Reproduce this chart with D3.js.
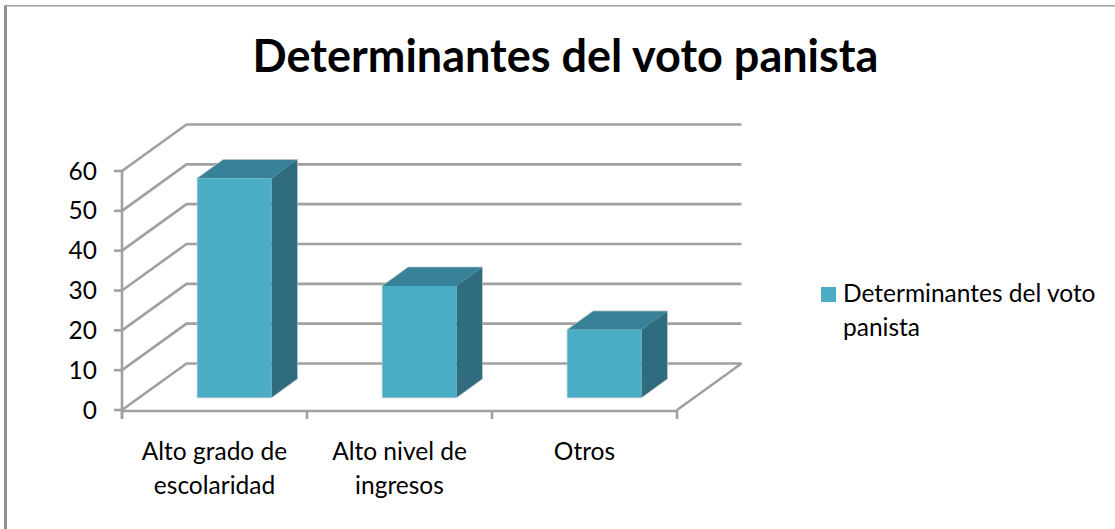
<!DOCTYPE html>
<html><head><meta charset="utf-8">
<script src="https://cdn.jsdelivr.net/npm/d3@7/dist/d3.min.js"></script>
<style>html,body{margin:0;background:#fff}svg{display:block}text{font-family:Lato,"Open Sans",sans-serif;fill:#000}</style>
</head><body><svg id="chart" width="1115" height="529"></svg>
<script>
const chartTitle = "Determinantes del voto panista";
const categories = [["Alto grado de","escolaridad"],["Alto nivel de","ingresos"],["Otros"]];
const values = [55, 28, 17];
const yTicks = [0,10,20,30,40,50,60];
const legendLines = ["Determinantes del voto","panista"];

const svg = d3.select("#chart");
const gridColor = "#a0a0a0";

// Frame around the chart area: only the top and left edges show
svg.append("rect").attr("x",4).attr("y",5).attr("width",3).attr("height",524).attr("fill","#8f8f8f");
svg.append("rect").attr("x",4).attr("y",5).attr("width",1111).attr("height",1.5).attr("fill","#a0a0a0");

svg.append("text").attr("x",565.5).attr("y",72).attr("text-anchor","middle")
  .attr("font-size",45).attr("font-weight",700).text(chartTitle);

// Oblique projection: depth 0 is the front of the floor, depth 1 the back wall
const y = d3.scaleLinear().domain([0,60]).range([410,171]);
const x = d3.scaleBand().domain(d3.range(categories.length)).range([122,677]);
const depthX = d3.scaleLinear().domain([0,1]).range([0,64.5]);
const depthY = d3.scaleLinear().domain([0,1]).range([0,-46.5]);
const project = (px, val, d) => [px + depthX(d), y(val) + depthY(d)];
const line = d3.line();
const grid = svg.append("g").attr("fill","none").attr("stroke",gridColor).attr("stroke-width",2.6);

// Gridlines run along the left wall, then across the back wall
yTicks.forEach(t => {
  grid.append("path").attr("d", line([project(122,t,0), project(122,t,1), project(677,t,1)]));
});
// Floor edge on the right
grid.append("path").attr("d", line([project(677,0,0), project(677,0,1)]));

// Value axis with outward ticks and labels
grid.append("path").attr("d", line([[122,y(60)],[122,y(0)+8]]));
yTicks.forEach(t => {
  grid.append("path").attr("d", line([[114,y(t)],[122,y(t)]]));
  svg.append("text").attr("x",97).attr("y",y(t)+8.5).attr("font-size",24.5).attr("text-anchor","end").text(t);
});

// Category axis
grid.append("path").attr("d", line([[122,y(0)+1],[677,y(0)+1]]));
[0,1,2,3].forEach(i => {
  const px = i<3 ? x(i) : x.range()[1];
  grid.append("path").attr("d", line([[px,y(0)],[px,y(0)+9]]));
});
categories.forEach((lines,i) => {
  lines.forEach((s,j) => svg.append("text").attr("x",x(i)+x.bandwidth()/2).attr("y",460+j*33.5)
    .attr("text-anchor","middle").attr("font-size",24.5).text(s));
});

// Bars: cuboids standing between depths 0.27 and 0.67 of the floor
const barW = 74, nearD = 0.27, farD = 0.67;
const barLeft = i => x(i) + (x.bandwidth()-barW)/2 + 2.5;
values.forEach((v,i) => {
  const L = barLeft(i), R = L+barW;
  const a = project(L,v,nearD), b = project(R,v,nearD), c = project(R,0,nearD), e = project(L,0,nearD);
  const bt = project(R,v,farD), at = project(L,v,farD), bb = project(R,0,farD);
  const g = svg.append("g");
  g.append("path").attr("d", line([at,bt,bb,c,e,a])+"Z").attr("fill","none")
    .attr("stroke","#c9c9c9").attr("stroke-width",1.6).attr("opacity",.7);
  g.append("path").attr("d", line([a,b,bt,at])+"Z").attr("fill","#378298");
  g.append("path").attr("d", line([b,bt,bb,c])+"Z").attr("fill","#2f6c80");
  g.append("path").attr("d", line([a,b,c,e])+"Z").attr("fill","#4bacc6");
});

// Legend
svg.append("rect").attr("x",821).attr("y",287).attr("width",15).attr("height",15).attr("fill","#4bacc6");
legendLines.forEach((s,i) => svg.append("text").attr("x",843).attr("y",302+i*33.5).attr("font-size",24.5).text(s));
</script></body></html>
